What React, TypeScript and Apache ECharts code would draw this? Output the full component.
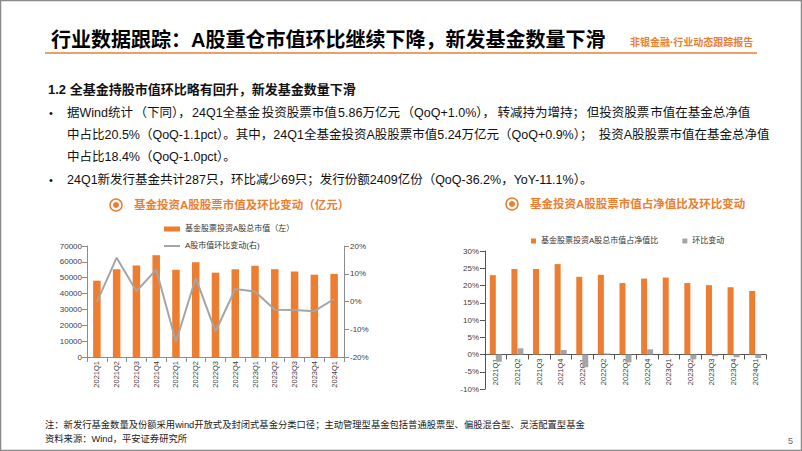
import React, { useEffect, useRef } from 'react';
import * as echarts from 'echarts';

const quarters = ['2021Q1', '2021Q2', '2021Q3', '2021Q4', '2022Q1', '2022Q2', '2022Q3', '2022Q4', '2023Q1', '2023Q2', '2023Q3', '2023Q4', '2024Q1'];
// 基金股票投资A股总市值（亿元）
const stockValue = [48100, 55400, 57700, 64200, 55000, 59800, 53200, 55400, 57500, 55400, 53900, 51900, 52400];
// A股市值环比变动（%）
const stockQoQ = [-0.2, 15.8, 3.7, 11.5, -14.5, 8.4, -10.8, 4.5, 3.6, -3.0, -3.1, -3.5, 0.9];
// 基金股票投资A股总市值占净值比（%）
const navShare = [23.0, 24.8, 24.8, 26.2, 22.5, 23.1, 20.7, 22.0, 22.3, 20.7, 20.1, 19.5, 18.4];
// 环比变动（pct）
const navShareChange = [-2.1, 1.8, -0.1, 1.3, -3.7, 0.3, -2.3, 1.5, 0.1, -1.4, -0.5, -0.8, -1.0];

const leftTicks = { min: 0, max: 70000, interval: 10000 };
const rightTicks = { min: -20, max: 20, interval: 10 };
const shareTicks = { min: -10, max: 30, interval: 5 };

const headerTitle = '行业数据跟踪：A股重仓市值环比继续下降，新发基金数量下滑';
const headerTag = '非银金融·行业动态跟踪报告';
const sectionTitle = '1.2 全基金持股市值环比略有回升，新发基金数量下滑';
// justified lines are given as phrase chunks
const bodyLine1 = ['据Wind统计', '（下同），', '24Q1全基金', '投资股票市值', '5.86万亿元', '（QoQ+1.0%），', '转减持为增持；', '但投资股票', '市值在基金总净值'];
const bodyLine2 = ['中占比20.5%', '（QoQ-1.1pct）。', '其中，', '24Q1全基金', '投资A股股票市值', '5.24万亿元', '（QoQ+0.9%）；', '投资A股股票市值', '在基金总净值'];
const bodyLine3 = '中占比18.4%（QoQ-1.0pct）。';
const bodyLine4 = '24Q1新发行基金共计287只，环比减少69只；发行份额2409亿份（QoQ-36.2%，YoY-11.1%）。';
const chart1Title = '基金投资A股股票市值及环比变动（亿元）';
const chart2Title = '基金投资A股股票市值占净值比及环比变动';
const noteLine = '注：新发行基金数量及份额采用wind开放式及封闭式基金分类口径；主动管理型基金包括普通股票型、偏股混合型、灵活配置型基金';
const sourceLine = '资料来源：Wind，平安证券研究所';

const ORANGE = '#ED7D31';
const GRAY = '#A5A5A5';
const FONT = "'Liberation Sans', 'Noto Sans CJK SC', sans-serif";
const AXIS = '#8c8c8c';
const BODY_SIZE = 12.5;

export default function App() {
  const ref = useRef<HTMLDivElement>(null);
  useEffect(() => {
    document.body.style.margin = '0';
    const chart = echarts.init(ref.current!, null, { renderer: 'svg' });
    const ctx = document.createElement('canvas').getContext('2d')!;
    ctx.font = `${BODY_SIZE}px ${FONT}`;
    const axisLabel = { fontSize: 8, color: '#404040', fontFamily: FONT };
    const xLabel = { fontSize: 7.5, color: '#404040', fontFamily: FONT, rotate: 90, margin: 4, interval: 0 };
    const text = (x: number, y: number, t: string, style: any = {}) => ({
      type: 'text', x, y,
      style: { text: t, fontFamily: FONT, fontSize: BODY_SIZE, fill: '#111', textVerticalAlign: 'middle', ...style },
    });
    const justified = (x0: number, x1: number, y: number, chunks: string[]) => {
      const widths = chunks.map((c) => ctx.measureText(c).width);
      const natural = widths.reduce((a, b) => a + b, 0);
      const totalChars = chunks.reduce((a, c) => a + c.length, 0);
      const extra = Math.max(0, x1 - x0 - natural);
      const out: any[] = [];
      let off = 0;
      let chars = 0;
      chunks.forEach((c, i) => {
        out.push(text(x0 + off + extra * (chars / (totalChars - 1)), y, c));
        off += widths[i];
        chars += c.length;
      });
      return out;
    };
    const icon = (cx: number, cy: number) => ([
      { type: 'circle', shape: { cx, cy, r: 6 }, style: { fill: 'none', stroke: ORANGE, lineWidth: 1.5 } },
      { type: 'circle', shape: { cx, cy, r: 3 }, style: { fill: ORANGE } },
    ]);
    const graphics: any[] = [
      { type: 'rect', shape: { x: 0.5, y: 0.5, width: 801, height: 450 }, style: { fill: 'none', stroke: '#8a8a8a', lineWidth: 1.5 } },
      text(51, 40, headerTitle, { fontSize: 20, fontWeight: 'bold', fill: '#000' }),
      text(630, 42, headerTag, { fontSize: 10, fontWeight: 'bold', fill: ORANGE }),
      { type: 'line', shape: { x1: 45, y1: 53, x2: 757, y2: 53 }, style: { stroke: ORANGE, lineWidth: 1.5 } },
      text(48, 89, sectionTitle, { fontSize: 13, fontWeight: 'bold' }),
      text(49, 113, '•', { fontSize: 11 }),
      ...justified(67, 752, 113, bodyLine1),
      ...justified(67, 752, 135, bodyLine2),
      text(67, 157, bodyLine3),
      text(49, 180, '•', { fontSize: 11 }),
      text(67, 180, bodyLine4),
      ...icon(116, 205),
      text(134, 205, chart1Title, { fontSize: 11.5, fontWeight: 'bold', fill: ORANGE }),
      ...icon(512, 204),
      text(530, 204, chart2Title, { fontSize: 11.5, fontWeight: 'bold', fill: ORANGE }),
      text(45, 425, noteLine, { fontSize: 9.3, fill: '#222' }),
      text(45, 439, sourceLine, { fontSize: 9.3, fill: '#222' }),
      text(788, 441, '5', { fontSize: 9, fill: '#666' }),
    ];
    const lineIcon = 'path://M0,0L0.01,0L0.01,0.01Z M0,1.6H16V3.4H0Z M15.99,4.99L16,5L15.99,5Z';
    chart.setOption({
      animation: false,
      textStyle: { fontFamily: FONT },
      graphic: graphics,
      legend: [
        {
          orient: 'vertical', left: 159, top: 220, itemGap: 9, itemWidth: 16, itemHeight: 5,
          textStyle: { fontSize: 8, color: '#333', fontFamily: FONT },
          data: [{ name: '基金股票投资A股总市值（左）', icon: 'rect' }, { name: 'A股市值环比变动(右)', icon: lineIcon }],
        },
        {
          orient: 'horizontal', left: 526, top: 232, itemGap: 24, itemWidth: 5, itemHeight: 5,
          textStyle: { fontSize: 8, color: '#333', fontFamily: FONT },
          data: [{ name: '基金股票投资A股总市值占净值比', icon: 'rect' }, { name: '环比变动', icon: 'rect' }],
        },
      ],
      grid: [
        { left: 87, top: 246, width: 257, height: 111 },
        { left: 485, top: 251, width: 281, height: 138 },
      ],
      xAxis: [
        {
          type: 'category', gridIndex: 0, data: quarters,
          axisLine: { lineStyle: { color: AXIS } }, axisTick: { show: true, lineStyle: { color: AXIS } },
          axisLabel: xLabel,
        },
        {
          type: 'category', gridIndex: 1, data: quarters, position: 'bottom',
          offset: -138 * (0 - shareTicks.min) / (shareTicks.max - shareTicks.min),
          axisLine: { onZero: false, lineStyle: { color: '#555' } }, axisTick: { show: true, lineStyle: { color: '#555' } },
          axisLabel: xLabel,
        },
      ],
      yAxis: [
        {
          type: 'value', gridIndex: 0, ...leftTicks,
          splitLine: { show: false },
          axisLine: { show: true, lineStyle: { color: AXIS } }, axisTick: { show: true, lineStyle: { color: AXIS } },
          axisLabel: { ...axisLabel, margin: 5, formatter: (v: number) => String(v) },
        },
        {
          type: 'value', gridIndex: 0, position: 'right', ...rightTicks,
          splitLine: { show: false },
          axisLine: { show: true, lineStyle: { color: AXIS } }, axisTick: { show: true, lineStyle: { color: AXIS } },
          axisLabel: { ...axisLabel, margin: 6, formatter: (v: number) => v + '%' },
        },
        {
          type: 'value', gridIndex: 1, ...shareTicks,
          splitLine: { show: false },
          axisLine: { show: true, lineStyle: { color: '#555' } }, axisTick: { show: true, lineStyle: { color: '#555' } },
          axisLabel: { ...axisLabel, margin: 6, formatter: (v: number) => v + '%' },
        },
      ],
      series: [
        {
          name: '基金股票投资A股总市值（左）', type: 'bar', xAxisIndex: 0, yAxisIndex: 0,
          data: stockValue, barWidth: '38%', itemStyle: { color: ORANGE },
        },
        {
          name: 'A股市值环比变动(右)', type: 'line', xAxisIndex: 0, yAxisIndex: 1,
          data: stockQoQ, symbol: 'none', lineStyle: { color: GRAY, width: 2 }, itemStyle: { color: GRAY },
        },
        {
          name: '基金股票投资A股总市值占净值比', type: 'bar', xAxisIndex: 1, yAxisIndex: 2,
          data: navShare, barWidth: 6, barGap: '0%', itemStyle: { color: ORANGE },
        },
        {
          name: '环比变动', type: 'bar', xAxisIndex: 1, yAxisIndex: 2,
          data: navShareChange, barWidth: 6, barGap: '0%', itemStyle: { color: GRAY },
        },
      ],
    });
    return () => chart.dispose();
  }, []);
  return <div ref={ref} style={{ width: 802, height: 451 }} />;
}
